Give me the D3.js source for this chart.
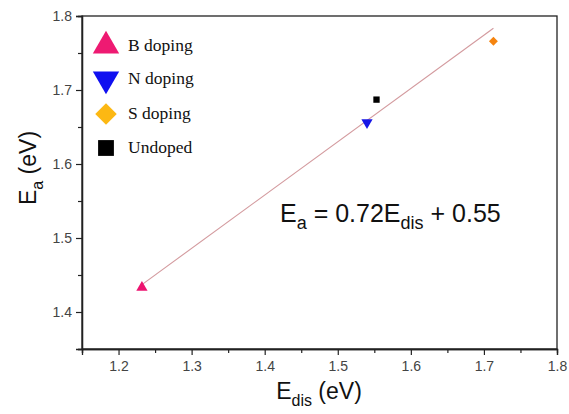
<!DOCTYPE html>
<html>
<head>
<meta charset="utf-8">
<script src="https://cdn.jsdelivr.net/npm/d3@7"></script>
<style>
  body { margin: 0; background: #fff; }
  svg text { font-family: Arial, "Liberation Sans", sans-serif; }
  svg text.serif { font-family: "Liberation Serif", "Times New Roman", serif; }
</style>
</head>
<body>
<svg id="chart" width="569" height="414"></svg>
<script>
// data
var seriesNames = ["B doping", "N doping", "S doping", "Undoped"];
var edis = [1.232, 1.540, 1.713, 1.553];
var ea = [1.433, 1.656, 1.766, 1.687];
var fitSlope = 0.72, fitIntercept = 0.55;
var fitRange = [1.232, 1.713];
var xTicks = [1.2, 1.3, 1.4, 1.5, 1.6, 1.7, 1.8];
var yTicks = [1.4, 1.5, 1.6, 1.7, 1.8];

var pointColors = ["#ec1470", "#1616e6", "#f5840f", "#000000"];
var legendColors = ["#ee1a72", "#1010f0", "#fcb813", "#000000"];
// square rotated 45deg for the diamond
var shapes = [d3.symbolTriangle, d3.symbolTriangle, d3.symbolSquare, d3.symbolSquare];
var rotations = [0, 180, 45, 0];

var svg = d3.select("#chart");
var mLeft = 82, mTop = 16, mRight = 557, mBottom = 349;

var x = d3.scaleLinear().domain([1.15, 1.8]).range([mLeft, mRight]);
var y = d3.scaleLinear().domain([1.35, 1.8]).range([mBottom, mTop]);

// minor ticks
var xMinor = d3.range(1.15, 1.81, 0.1).map(function(d){ return +d.toFixed(2); });
var yMinor = d3.range(1.35, 1.81, 0.1).map(function(d){ return +d.toFixed(2); });

svg.append("g").attr("transform", "translate(0," + mBottom + ")")
  .call(d3.axisBottom(x).tickValues(xTicks).tickFormat(d3.format(".1f")).tickSize(6).tickPadding(6));
svg.append("g").attr("transform", "translate(0," + mBottom + ")")
  .call(d3.axisBottom(x).tickValues(xMinor).tickFormat("").tickSize(4));
svg.append("g").attr("transform", "translate(" + mLeft + ",0)")
  .call(d3.axisLeft(y).tickValues(yTicks).tickFormat(d3.format(".1f")).tickSize(6).tickPadding(4));
svg.append("g").attr("transform", "translate(" + mLeft + ",0)")
  .call(d3.axisLeft(y).tickValues(yMinor).tickFormat("").tickSize(4));

// frame (top / right)
svg.append("rect")
  .attr("x", mLeft).attr("y", mTop)
  .attr("width", mRight - mLeft).attr("height", mBottom - mTop)
  .attr("fill", "none").attr("stroke", "#222").attr("stroke-width", 1.3);

svg.selectAll(".domain").attr("stroke", "#222").attr("stroke-width", 1.3);
svg.selectAll(".tick line").attr("stroke", "#222").attr("stroke-width", 1.2);
svg.selectAll(".tick text").attr("font-size", 14).attr("fill", "#444");

// fit line
svg.append("line")
  .attr("x1", x(fitRange[0])).attr("y1", y(fitSlope * fitRange[0] + fitIntercept))
  .attr("x2", x(fitRange[1])).attr("y2", y(fitSlope * fitRange[1] + fitIntercept))
  .attr("stroke", "#d39a9e").attr("stroke-width", 1.1);

// points
seriesNames.forEach(function(name, i){
  var size = i == 3 ? 40 : (i == 2 ? 40 : 55);
  svg.append("path")
    .attr("d", d3.symbol().type(shapes[i]).size(size)())
    .attr("fill", pointColors[i])
    .attr("transform", "translate(" + x(edis[i]) + "," + y(ea[i]) + ") rotate(" + rotations[i] + ")");
});

// legend
var legY = [46, 79, 114, 148];
seriesNames.forEach(function(name, i){
  var size = i == 3 ? 250 : (i == 2 ? 230 : 300);
  svg.append("path")
    .attr("d", d3.symbol().type(shapes[i]).size(size)())
    .attr("fill", legendColors[i])
    .attr("transform", "translate(106," + legY[i] + ") rotate(" + rotations[i] + ")");
  svg.append("text").attr("class", "serif")
    .attr("x", 128).attr("y", legY[i] + 5)
    .attr("font-size", 17.5).attr("fill", "#111")
    .text(name);
});

// equation
var eq = svg.append("text").attr("x", 280).attr("y", 222)
  .attr("font-size", 25).attr("fill", "#111");
eq.append("tspan").text("E");
eq.append("tspan").attr("font-size", 18).attr("dy", 7).text("a");
eq.append("tspan").attr("dy", -7).text(" = 0.72E");
eq.append("tspan").attr("font-size", 18).attr("dy", 7).text("dis");
eq.append("tspan").attr("dy", -7).text(" + 0.55");

// x axis title
var xt = svg.append("text").attr("x", 319).attr("y", 399)
  .attr("text-anchor", "middle").attr("font-size", 23).attr("fill", "#111");
xt.append("tspan").text("E");
xt.append("tspan").attr("font-size", 16).attr("dy", 7).text("dis");
xt.append("tspan").attr("dy", -7).text(" (eV)");

// y axis title
var yt = svg.append("text")
  .attr("transform", "translate(36,168) rotate(-90)")
  .attr("text-anchor", "middle").attr("font-size", 23).attr("fill", "#111");
yt.append("tspan").text("E");
yt.append("tspan").attr("font-size", 16).attr("dy", 7).text("a");
yt.append("tspan").attr("dy", -7).text(" (eV)");
</script>
</body>
</html>
